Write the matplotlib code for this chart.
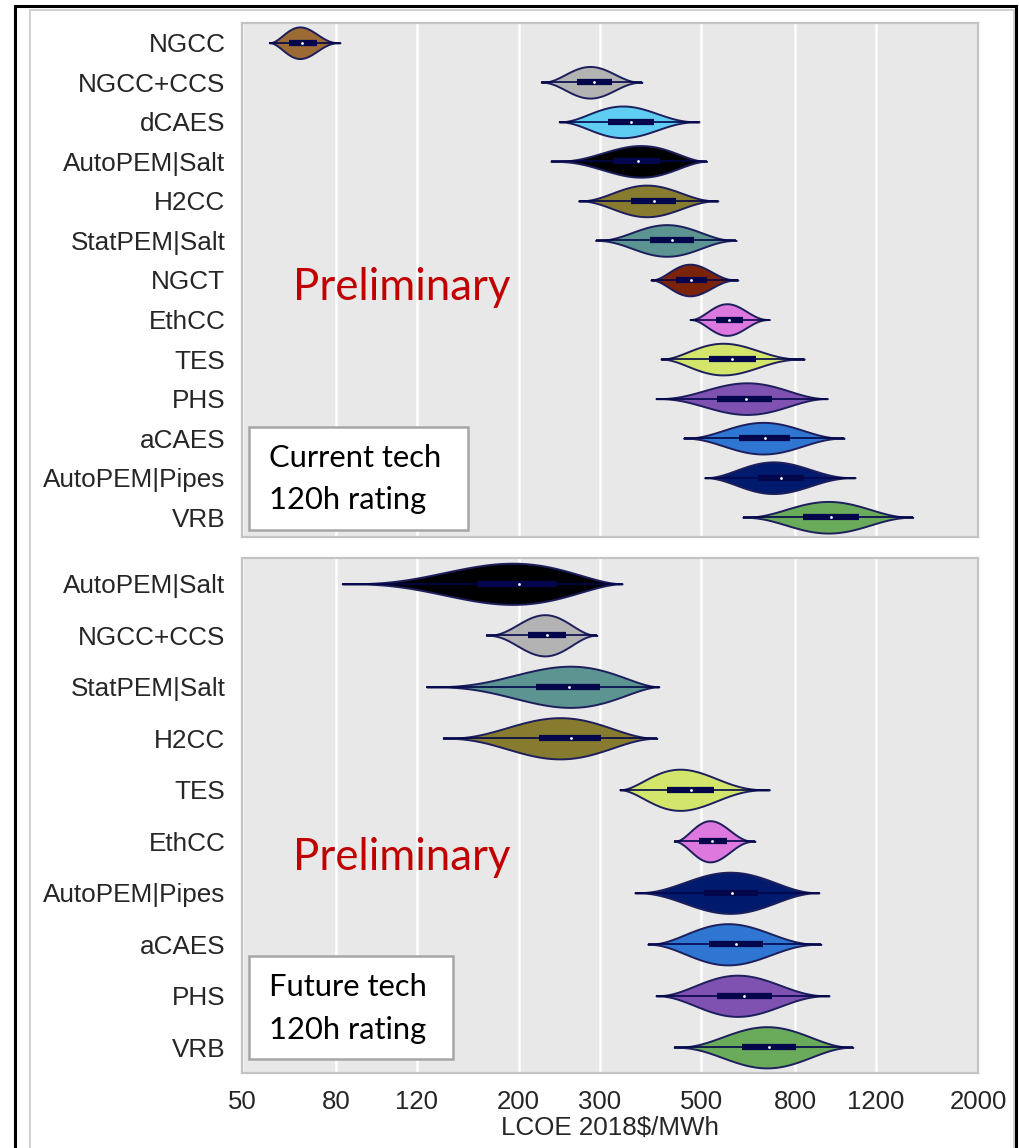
import matplotlib
matplotlib.use('Agg')
import matplotlib.pyplot as plt
from matplotlib.patches import Rectangle
from matplotlib.ticker import FixedLocator, NullLocator
import numpy as np

# ---- data (LCOE 2018$/MWh) ----
top_labels = ['NGCC', 'NGCC+CCS', 'dCAES', 'AutoPEM|Salt', 'H2CC', 'StatPEM|Salt', 'NGCT',
              'EthCC', 'TES', 'PHS', 'aCAES', 'AutoPEM|Pipes', 'VRB']
top_min = [57.3, 224, 245, 235, 270, 294, 388, 472, 408, 398, 457, 508, 615]
top_q1 = [63.3, 268, 313, 321, 351, 386, 440, 538, 520, 541, 603, 663, 831]
top_med = [67.5, 292, 351, 363, 394, 431, 475, 574, 584, 624, 686, 744, 958]
top_q3 = [72.8, 319, 394, 406, 440, 482, 515, 615, 657, 711, 780, 836, 1102]
top_max = [81.7, 371, 494, 513, 543, 595, 600, 703, 837, 940, 1022, 1080, 1442]
top_mode = [66.8, 286, 337, 369, 380, 420, 472, 568, 557, 628, 681, 717, 944]

bot_labels = ['AutoPEM|Salt', 'NGCC+CCS', 'StatPEM|Salt', 'H2CC', 'TES', 'EthCC',
              'AutoPEM|Pipes', 'aCAES', 'PHS', 'VRB']
bot_min = [82.6, 170, 126, 137, 332, 436, 358, 382, 398, 436]
bot_q1 = [162, 210, 218, 221, 420, 495, 507, 519, 541, 612]
bot_med = [200, 231, 258, 260, 474, 527, 582, 594, 620, 703]
bot_q3 = [242, 253, 301, 302, 533, 568, 663, 680, 711, 803]
bot_max = [336, 296, 404, 400, 703, 654, 901, 910, 948, 1068]
bot_mode = [194, 228, 259, 246, 449, 522, 577, 571, 599, 694]

x_ticks = [50, 80, 120, 200, 300, 500, 800, 1200, 2000]

tech_colors = {
    'NGCC': '#9b6a35', 'NGCC+CCS': '#b3b3b3', 'dCAES': '#5fcdf2',
    'AutoPEM|Salt': '#000000', 'H2CC': '#877b2f', 'StatPEM|Salt': '#5b9490',
    'NGCT': '#7b2308', 'EthCC': '#dd78de', 'TES': '#d4e56c', 'PHS': '#7f51b0',
    'aCAES': '#2f76d3', 'AutoPEM|Pipes': '#001b6e', 'VRB': '#6aab5b',
}
EDGE = '#1d1f5c'
INNER = '#03064a'
PERT_LAMBDA = 5.0

plt.rcParams['font.family'] = ['Liberation Sans', 'DejaVu Sans']


def pert_stats(lo, mode, hi, med):
    # PERT (beta) density through min / mode / max, evaluated in log space
    a, m, b = np.log10(lo), np.log10(mode), np.log10(hi)
    t = np.linspace(0, 1, 300)
    alpha = 1 + PERT_LAMBDA * (m - a) / (b - a)
    beta = 1 + PERT_LAMBDA * (b - m) / (b - a)
    dens = t ** (alpha - 1) * (1 - t) ** (beta - 1)
    return {'coords': 10 ** (a + t * (b - a)), 'vals': dens, 'mean': med,
            'median': med, 'min': lo, 'max': hi, 'quantiles': []}


def draw_panel(ax, labels, mins, q1s, meds, q3s, maxs, modes):
    pos = np.arange(len(labels))
    stats = [pert_stats(mins[i], modes[i], maxs[i], meds[i]) for i in pos]
    parts = ax.violin(stats, positions=pos, orientation='horizontal', widths=0.8,
                      showmeans=False, showextrema=False, showmedians=False)
    for lab, body in zip(labels, parts['bodies']):
        body.set_facecolor(tech_colors[lab])
        body.set_edgecolor(EDGE)
        body.set_linewidth(1.4)
        body.set_alpha(1)
        body.set_zorder(3)
    ax.hlines(pos, mins, maxs, color=INNER, lw=1.2, zorder=4)
    ax.hlines(pos, q1s, q3s, color=INNER, lw=4.5, zorder=5)
    ax.scatter(meds, pos, s=4, color='white', zorder=6, linewidths=0)

    ax.set_xscale('log')
    ax.set_xlim(50, 2000)
    ax.set_ylim(len(labels) - 0.5, -0.5)
    ax.set_facecolor('#e8e8e8')
    ax.xaxis.set_major_locator(FixedLocator(x_ticks))
    ax.xaxis.set_minor_locator(NullLocator())
    ax.set_xticklabels([str(t) for t in x_ticks])
    ax.grid(axis='x', color='white', lw=1.8, zorder=0)
    ax.set_axisbelow(True)
    ax.set_yticks(pos)
    ax.set_yticklabels(labels, fontsize=18.8, color='#262626')
    ax.tick_params(axis='both', length=0, pad=12)
    ax.tick_params(axis='x', labelsize=18.5, labelcolor='#262626', pad=12)
    for sp in ax.spines.values():
        sp.set_color('#c4c4c4')
        sp.set_linewidth(1.6)


fig = plt.figure(figsize=(10.2, 11.48), dpi=100)
ax1 = fig.add_axes([0.2373, 0.5322, 0.7216, 0.4478])
ax2 = fig.add_axes([0.2373, 0.0653, 0.7216, 0.4486])

draw_panel(ax1, top_labels, top_min, top_q1, top_med, top_q3, top_max, top_mode)
draw_panel(ax2, bot_labels, bot_min, bot_q1, bot_med, bot_q3, bot_max, bot_mode)
ax1.tick_params(axis='x', labelbottom=False)
ax2.set_xlabel('LCOE 2018$/MWh', fontsize=18.7, color='#262626', labelpad=2)

# annotation boxes
note_font = ['Lato', 'DejaVu Sans']
for ax, (x0, y0, x1, y1), lines, ys, py in [
        (ax1, (0.0095, 0.0136, 0.307, 0.214), ['Current tech', '120h rating'], (0.1537, 0.072), 0.486),
        (ax2, (0.0095, 0.0272, 0.2867, 0.2272), ['Future tech', '120h rating'], (0.1676, 0.0835), 0.419)]:
    ax.add_patch(Rectangle((x0, y0), x1 - x0, y1 - y0, transform=ax.transAxes,
                           facecolor='white', edgecolor='#a6a6a6', lw=1.8, zorder=7))
    for txt, yy in zip(lines, ys):
        ax.text(0.0367, yy, txt, transform=ax.transAxes, fontsize=22.2, family=note_font,
                color='black', va='center', ha='left', zorder=8)
    ax.text(0.069, py, 'Preliminary', transform=ax.transAxes, fontsize=31.5, family=note_font,
            color='#c00000', va='center', ha='left', zorder=8)

# figure frames
fig.patches.append(Rectangle((30 / 1020, -0.01), 984 / 1020, 1 - 10 / 1148 + 0.01,
                             transform=fig.transFigure, fill=False, edgecolor='#c8c8c8', lw=1.2))
fig.patches.append(Rectangle((15 / 1020, -0.01), 1001 / 1020, 1 - 6 / 1148 + 0.01,
                             transform=fig.transFigure, fill=False, edgecolor='black', lw=2.2))

fig.savefig('out.png', dpi=100)
